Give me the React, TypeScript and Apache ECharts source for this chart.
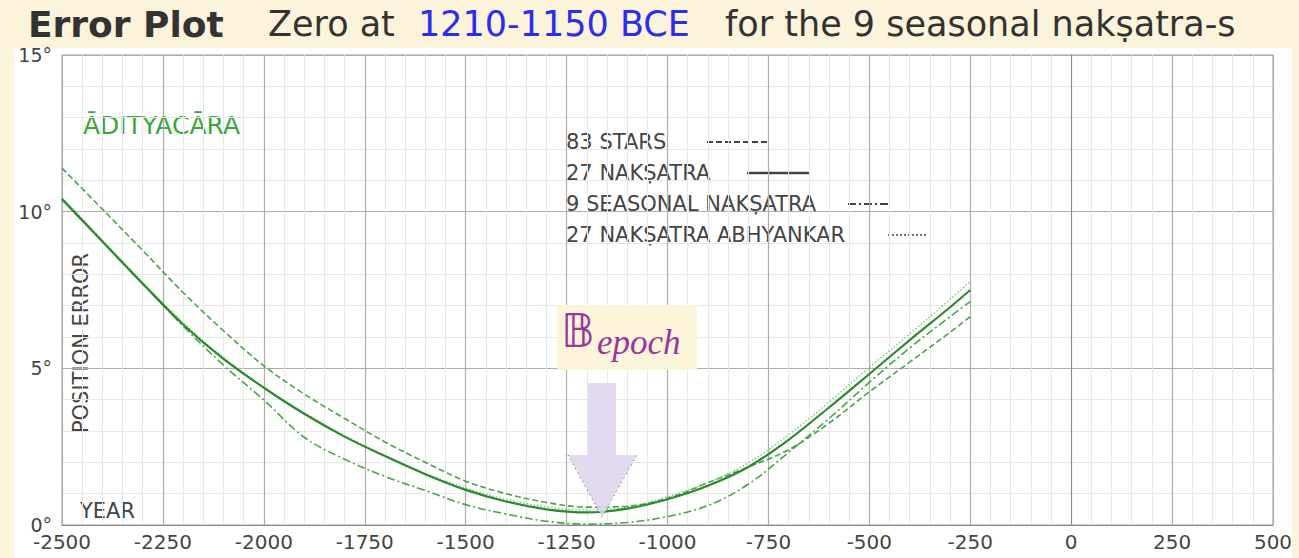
import React, { useEffect, useRef } from "react";
import * as echarts from "echarts";

// ---- data ----
const years = [-2500, -2400, -2300, -2200, -2100, -2000, -1900, -1800, -1700, -1600, -1500, -1400, -1300, -1200, -1100, -1000, -900, -800, -700, -600, -500, -400, -300, -250];
const stars83 = [11.39, 10.08, 8.76, 7.42, 6.2, 5.08, 4.18, 3.4, 2.65, 2.0, 1.4, 1.0, 0.72, 0.57, 0.6, 0.85, 1.35, 1.85, 2.4, 3.25, 4.25, 5.2, 6.15, 6.65];
const nakshatra27 = [10.4, 9.05, 7.7, 6.4, 5.3, 4.38, 3.55, 2.82, 2.2, 1.62, 1.12, 0.75, 0.5, 0.4, 0.52, 0.82, 1.25, 1.85, 2.72, 3.75, 4.82, 5.9, 6.95, 7.5];
const seasonal9 = [10.4, 9.05, 7.7, 6.35, 5.1, 3.99, 2.8, 2.1, 1.55, 1.1, 0.65, 0.35, 0.12, 0.03, 0.08, 0.27, 0.62, 1.3, 2.32, 3.4, 4.55, 5.65, 6.65, 7.13];
const abhyankar27 = [10.45, 9.1, 7.75, 6.45, 5.35, 4.4, 3.58, 2.85, 2.22, 1.65, 1.18, 0.82, 0.58, 0.48, 0.57, 0.9, 1.35, 1.98, 2.88, 3.92, 5.03, 6.1, 7.2, 7.77];
const seriesNames = ["83 STARS", "27 NAKṢATRA", "9 SEASONAL NAKṢATRA", "27 NAKṢATRA ABHYANKAR"];
const xAxisRange = { min: -2500, max: 500, interval: 250 };
const yAxisRange = { min: 0, max: 15, interval: 5 };
const titleParts = ["Error Plot", "Zero at", "1210-1150 BCE", "for the 9 seasonal nakṣatra-s"];

const FONT = "DejaVu Sans, Verdana, sans-serif";

export default function App() {
  const ref = useRef<HTMLDivElement>(null);
  useEffect(() => {
    if (!ref.current) return;
    const chart = echarts.init(ref.current, null, { renderer: "svg" });
    const mk = (arr: number[]) => years.map((y, i) => [y, arr[i]]);
    const seriesStyles = [
      { color: "#3f9f3f", width: 1.6, type: [6, 3] as any, opacity: 0.95 },
      { color: "#2b8a2b", width: 2.2, type: "solid" as any, opacity: 1 },
      { color: "#3f9f3f", width: 1.6, type: [8, 3, 2, 3] as any, opacity: 0.95 },
      { color: "#6cbf6c", width: 1.4, type: [1.5, 2] as any, opacity: 0.9 },
    ];
    const datasets = [stars83, nakshatra27, seasonal9, abhyankar27];
    const legendY = [142, 173, 204, 235];
    const legendLines = [
      { x1: 707, x2: 768, dash: [6, 3], w: 1.8 },
      { x1: 747, x2: 810, dash: null, w: 2.5 },
      { x1: 848, x2: 888, dash: [8, 3, 2, 3], w: 1.8 },
      { x1: 888, x2: 928, dash: [2, 2], w: 1.4 },
    ];
    const graphics: any[] = [];
    // title
    const titleX = [28, 268, 418, 725];
    titleParts.forEach((t, i) => {
      graphics.push({
        type: "text",
        x: titleX[i],
        y: 24,
        style: {
          text: t,
          font: `${i === 0 ? "bold 36px" : "35px"} ${FONT}`,
          fill: i === 2 ? "#2b2bf2" : "#333333",
          verticalAlign: "middle",
          align: "left",
        },
      });
    });
    // legend
    seriesNames.forEach((n, i) => {
      graphics.push({
        type: "text",
        x: 566,
        y: legendY[i],
        style: { text: n, font: `21px ${FONT}`, fill: "#444", verticalAlign: "middle" },
      });
      const l = legendLines[i];
      graphics.push({
        type: "line",
        shape: { x1: l.x1, y1: legendY[i], x2: l.x2, y2: legendY[i] },
        style: { stroke: "#444", lineWidth: l.w, lineDash: l.dash || undefined },
      });
    });
    graphics.push(
      {
        type: "text",
        x: 83,
        y: 125,
        style: { text: "ĀDITYACĀRA", font: `25px ${FONT}`, fill: "#3aa63a", verticalAlign: "middle" },
      },
      {
        type: "text",
        x: 81,
        y: 343,
        rotation: Math.PI / 2,
        style: { text: "POSITION ERROR", font: `21px ${FONT}`, fill: "#444", align: "center", verticalAlign: "middle" },
      },
      {
        type: "text",
        x: 80,
        y: 511,
        style: { text: "YEAR", font: `21px ${FONT}`, fill: "#444", verticalAlign: "middle" },
      },
      {
        type: "rect",
        z: 10,
        shape: { x: 557, y: 305, width: 140, height: 65 },
        style: { fill: "#fcf4d9" },
      },
      {
        type: "text",
        z: 11,
        x: 561,
        y: 331,
        style: { text: "𝔹", font: `46px DejaVu Sans, DejaVu Serif, serif`, fill: "#9b349f", verticalAlign: "middle" },
      },
      {
        type: "text",
        z: 11,
        x: 597,
        y: 342,
        style: { text: "epoch", font: `italic 35px Liberation Serif, DejaVu Serif, serif`, fill: "#9b349f", verticalAlign: "middle" },
      },
      {
        type: "polygon",
        z: 10,
        shape: {
          points: [
            [588, 383],
            [616, 383],
            [616, 455],
            [637, 455],
            [602, 517],
            [568, 455],
            [588, 455],
          ],
        },
        style: { fill: "rgba(222,212,236,0.85)" },
      },
      {
        type: "polyline",
        z: 11,
        shape: { points: [[568, 455], [602, 517], [637, 455]] },
        style: { stroke: "#555", lineWidth: 1, lineDash: [1, 4], fill: "none" },
      }
    );

    chart.setOption({
      animation: false,
      backgroundColor: "transparent",
      grid: { left: 62, right: 26, top: 55, bottom: 33, show: true, borderColor: "#9a9a9a", borderWidth: 1 },
      xAxis: {
        type: "value",
        min: xAxisRange.min,
        max: xAxisRange.max,
        interval: xAxisRange.interval,
        axisLine: { show: true, lineStyle: { color: "#8a8a8a" } },
        axisTick: { show: false },
        minorTick: { show: false, splitNumber: 5 },
        minorSplitLine: { show: true, lineStyle: { color: "#e8e8e8", width: 1 } },
        splitLine: { show: true, lineStyle: { color: "#adadad", width: 1.2 } },
        axisLabel: { formatter: (v: number) => String(v), color: "#444", fontSize: 20, fontFamily: FONT, margin: 7 },
      },
      yAxis: {
        type: "value",
        min: yAxisRange.min,
        max: yAxisRange.max,
        interval: yAxisRange.interval,
        axisLine: { show: true, lineStyle: { color: "#8a8a8a" } },
        axisTick: { show: false },
        minorTick: { show: false, splitNumber: 5 },
        minorSplitLine: { show: true, lineStyle: { color: "#e8e8e8", width: 1 } },
        splitLine: { show: true, lineStyle: { color: "#adadad", width: 1.2 } },
        axisLabel: { formatter: (v: number) => v + "°", color: "#444", fontSize: 19, fontFamily: FONT, margin: 10 },
      },
      series: datasets.map((d, i) => ({
        type: "line",
        name: seriesNames[i],
        data: mk(d),
        smooth: 0.35,
        showSymbol: false,
        symbol: "none",
        z: 3 + (i === 1 ? 1 : 0),
        lineStyle: seriesStyles[i],
      })),
      graphic: graphics,
    });
    return () => chart.dispose();
  }, []);

  return (
    <div style={{ position: "fixed", left: 0, top: 0, width: 1299, height: 558, background: "#fcf4da", overflow: "hidden" }}>
      <div style={{ position: "absolute", left: 14, top: 48, width: 1278, height: 510, background: "#ffffff" }} />
      <div ref={ref} style={{ position: "absolute", left: 0, top: 0, width: 1299, height: 558 }} />
    </div>
  );
}
